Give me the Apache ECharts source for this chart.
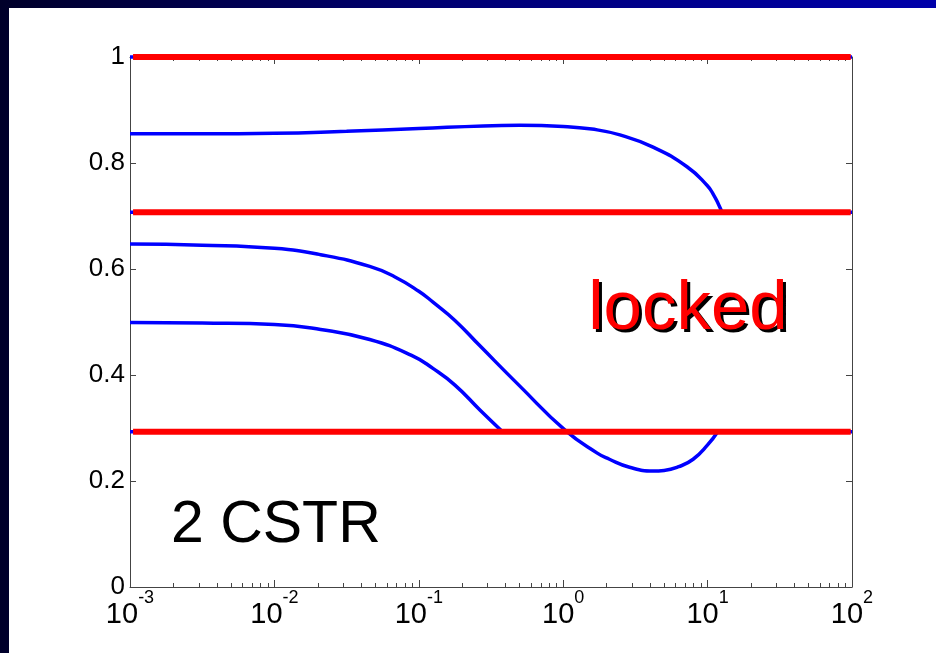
<!DOCTYPE html>
<html>
<head>
<meta charset="utf-8">
<script src="https://cdn.jsdelivr.net/npm/echarts@6/dist/echarts.min.js"></script>
<style>
  html, body { margin: 0; padding: 0; }
  body {
    width: 936px; height: 653px; overflow: hidden; position: relative;
    background: linear-gradient(to right, #00002a 0%, #000070 45%, #0000aa 100%);
  }
  #chart {
    position: absolute; left: 9px; top: 8px; width: 927px; height: 645px;
    background: #ffffff;
  }
</style>
</head>
<body>
<div id="chart"></div>
<script>
// Upper branch: starts near 0.855, bulges slightly, drops onto the 0.707 boundary
const upperX = [0.001, 0.00316, 0.01, 0.0316, 0.1, 0.28, 0.5, 1, 1.58, 2.47, 4.19, 7.2, 9.9, 11.0, 12.0, 12.6];
const upperY = [0.855, 0.855, 0.856, 0.860, 0.865, 0.870, 0.871, 0.869, 0.864, 0.853, 0.830, 0.793, 0.758, 0.740, 0.720, 0.707];

// Middle branch: starts near 0.647, dips below 0.293 and comes back up
const middleX = [0.001, 0.00316, 0.01, 0.0209, 0.0457, 0.0684, 0.1, 0.126, 0.178, 0.265, 0.501, 1.03, 1.71, 2.09, 2.88, 4.19, 5.0, 6.31, 7.94, 10, 11.75];
const middleY = [0.647, 0.645, 0.639, 0.627, 0.605, 0.585, 0.558, 0.537, 0.503, 0.455, 0.379, 0.296, 0.253, 0.241, 0.226, 0.219, 0.220, 0.227, 0.241, 0.268, 0.293];

// Lower branch: starts at 0.5, ends on the 0.293 boundary
const lowerX = [0.001, 0.00316, 0.01, 0.0209, 0.0457, 0.0891, 0.126, 0.178, 0.265, 0.38];
const lowerY = [0.499, 0.498, 0.4955, 0.486, 0.467, 0.437, 0.412, 0.381, 0.334, 0.293];

// Horizontal boundary levels
const levels = [1, 0.7071, 0.2929];

// Axis ranges and ticks
const xMin = 0.001, xMax = 100;
const decadeTicks = [0.001, 0.01, 0.1, 1, 10, 100];
const minorTicks = [];
decadeTicks.slice(0, -1).forEach(d => { for (let m = 2; m <= 9; m++) minorTicks.push(+(d * m).toPrecision(3)); });

// Text annotations (data coordinates of the text's left/middle anchor)
const lockedText = 'locked', lockedAt = [1.49, 0.523];
const cstrText = '2 CSTR', cstrAt = [0.00192, 0.115];

const pair = (xs, ys) => xs.map((x, i) => [x, ys[i]]);

const FONT = '"Liberation Sans", Arial, Helvetica, sans-serif';
const AXIS_COLOR = '#444';
const BLUE = '#0000ff', RED = '#ff0000';

const chart = echarts.init(document.getElementById('chart'), null, { renderer: 'canvas' });

const grid = { left: 121, top: 49, width: 722, height: 530 };

function logAxis(pos, show, tickLen, ticks, withLabels) {
  return {
    type: 'log', logBase: 10, min: xMin, max: xMax, position: pos, gridIndex: 0,
    axisLine: { show: show, lineStyle: { color: AXIS_COLOR, width: 1 } },
    axisTick: { show: true, inside: true, length: tickLen, customValues: ticks,
                lineStyle: { color: AXIS_COLOR, width: 1 } },
    axisLabel: withLabels ? {
      show: true, customValues: decadeTicks, margin: 2, color: '#000',
      fontFamily: FONT,
      formatter: v => '{b|10}{s|' + Math.round(Math.log10(v)) + '}',
      rich: {
        b: { fontSize: 29, fontFamily: FONT, color: '#000', lineHeight: 40, verticalAlign: 'bottom' },
        s: { fontSize: 18, fontFamily: FONT, color: '#000', lineHeight: 40, verticalAlign: 'top' }
      }
    } : { show: false },
    splitLine: { show: false }, minorTick: { show: false }, minorSplitLine: { show: false }
  };
}

function yAxis(pos, withLabels) {
  return {
    type: 'value', min: 0, max: 1, interval: 0.2, position: pos, gridIndex: 0,
    axisLine: { show: true, lineStyle: { color: AXIS_COLOR, width: 1 } },
    axisTick: { show: true, inside: true, length: 6, lineStyle: { color: AXIS_COLOR } },
    axisLabel: withLabels ? { show: true, color: '#000', fontSize: 26, fontFamily: FONT, margin: 5 } : { show: false },
    splitLine: { show: false }
  };
}

const series = [];

// blue traces running along each boundary (visible only at the ends)
levels.forEach(L => series.push({
  type: 'line', xAxisIndex: 0, yAxisIndex: 0, data: [[xMin, L], [xMax, L]],
  showSymbol: false, lineStyle: { color: BLUE, width: 3.5 }, clip: false, silent: true, z: 2
}));

[[upperX, upperY], [middleX, middleY], [lowerX, lowerY]].forEach(([xs, ys]) => series.push({
  type: 'line', xAxisIndex: 0, yAxisIndex: 0, data: pair(xs, ys),
  showSymbol: false, smooth: 0.5,
  lineStyle: { color: BLUE, width: 3.5 }, silent: true, z: 3
}));

// red boundary lines on top
levels.forEach(L => series.push({
  type: 'line', xAxisIndex: 0, yAxisIndex: 0, data: [[0.00105, L], [98, L]],
  showSymbol: false, lineStyle: { color: RED, width: 6, cap: 'butt' }, clip: false, silent: true, z: 4
}));

// text annotations; "locked" gets a hard black drop shadow drawn as an offset copy
function textSeries(text, at, size, color, offset, z) {
  return {
    type: 'scatter', xAxisIndex: 0, yAxisIndex: 0, data: [at], symbolSize: 0.1,
    itemStyle: { color: 'transparent', opacity: 1 }, silent: true, z: z,
    emphasis: { disabled: true },
    label: { show: true, position: 'right', distance: 0, offset: offset, formatter: text,
             fontSize: size, fontFamily: FONT, color: color, opacity: 1 }
  };
}
series.push(textSeries(lockedText, lockedAt, 69, '#000000', [3, 3], 6));
series.push(textSeries(lockedText, lockedAt, 69, RED, [0, 0], 7));
series.push(textSeries(cstrText, cstrAt, 59, '#000000', [0, 0], 6));

chart.setOption({
  animation: false,
  backgroundColor: '#ffffff',
  grid: grid,
  xAxis: [
    logAxis('bottom', true, 7, decadeTicks, true),
    logAxis('bottom', false, 4, minorTicks, false),
    logAxis('top', true, 7, decadeTicks, false),
    logAxis('top', false, 4, minorTicks, false)
  ],
  yAxis: [yAxis('left', true), yAxis('right', false)],
  series: series
});
</script>
</body>
</html>
